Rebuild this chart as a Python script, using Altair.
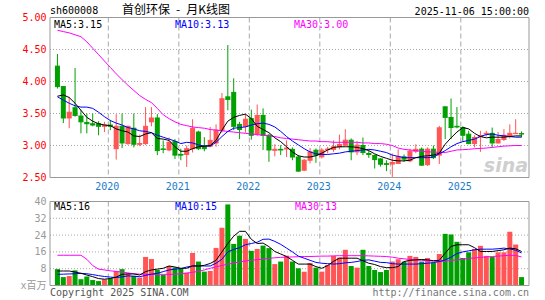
import altair as alt
import numpy as np
import pandas as pd

# ---------------- data ----------------
months = [str(p) for p in pd.period_range("2019-04", periods=80, freq="M")]

opens = [4.24, 3.92, 3.43, 3.59, 3.46, 3.36, 3.34, 3.34, 3.30, 3.32,
         2.95, 3.30, 3.03, 3.27, 3.02, 3.03, 3.37, 3.43, 2.945, 2.93,
         3.06, 2.86, 2.86, 2.95, 3.21, 2.99, 2.99, 3.04, 3.24, 3.76,
         3.83, 3.33, 3.30, 3.42, 3.18, 3.47, 3.16, 2.925, 2.94, 2.945,
         2.94, 2.82, 2.615, 2.77, 2.927, 2.823, 2.935, 2.94, 2.98, 3.005,
         3.083, 2.90, 3.00, 2.875, 2.844, 2.79, 2.715, 2.71, 2.72, 2.823,
         2.76, 2.91, 2.943, 2.70, 2.943, 2.85, 3.604, 3.4375, 3.30, 3.281,
         3.177, 3.03, 3.14, 3.18, 3.19, 3.04, 3.094, 3.15, 3.185, 3.185]

highs = [4.43, 3.93, 3.76, 4.21, 3.56, 3.50, 3.50, 3.38, 3.37, 3.40,
         3.49, 3.50, 3.31, 3.50, 3.17, 3.60, 3.60, 3.49, 3.08, 3.125,
         3.10, 2.95, 3.00, 3.41, 3.23, 3.13, 3.29, 3.33, 3.82, 4.57,
         4.05, 3.37, 3.49, 3.56, 3.64, 3.58, 3.18, 3.02, 3.005, 3.08,
         2.97, 2.85, 2.79, 2.963, 2.953, 2.96, 2.98, 3.08, 3.17, 3.255,
         3.11, 3.068, 3.125, 2.917, 2.86, 2.80, 2.77, 2.875, 2.94, 2.86,
         2.95, 3.02, 2.97, 2.97, 3.00, 3.307, 3.61, 3.734, 3.60, 3.30,
         3.23, 3.16, 3.23, 3.23, 3.28, 3.21, 3.255, 3.33, 3.41, 3.22]

lows = [3.89, 3.35, 3.27, 3.45, 3.19, 3.19, 3.30, 3.16, 3.21, 3.24,
        2.78, 2.96, 3.01, 2.97, 2.99, 3.01, 3.30, 2.85, 2.88, 2.91,
        2.79, 2.77, 2.665, 2.89, 2.93, 2.91, 2.97, 2.98, 3.20, 3.55,
        3.24, 3.10, 3.20, 3.09, 3.15, 2.93, 2.745, 2.83, 2.85, 2.82,
        2.77, 2.59, 2.60, 2.72, 2.73, 2.797, 2.875, 2.90, 2.94, 2.995,
        2.77, 2.85, 2.85, 2.807, 2.64, 2.67, 2.60, 2.51, 2.71, 2.745,
        2.74, 2.88, 2.68, 2.68, 2.79, 2.71, 3.10, 3.10, 3.27, 3.057,
        3.02, 2.97, 2.90, 3.14, 2.97, 3.03, 3.07, 3.11, 3.18, 3.13]

closes = [3.92, 3.43, 3.52, 3.47, 3.37, 3.34, 3.32, 3.30, 3.32, 3.30,
          3.30, 3.04, 3.30, 3.02, 3.03, 3.30, 3.43, 2.92, 2.94, 3.05,
          2.85, 2.85, 2.95, 3.27, 2.95, 2.95, 3.08, 3.24, 3.73, 3.72,
          3.30, 3.25, 3.41, 3.16, 3.47, 3.16, 2.93, 2.94, 2.93, 2.96,
          2.82, 2.60, 2.77, 2.90, 2.85, 2.927, 2.945, 2.98, 3.016, 3.083,
          2.90, 3.005, 2.89, 2.86, 2.78, 2.708, 2.705, 2.735, 2.823, 2.787,
          2.91, 2.94, 2.693, 2.943, 2.81, 3.276, 3.44, 3.281, 3.29, 3.16,
          3.03, 3.125, 3.155, 3.19, 3.04, 3.094, 3.16, 3.19, 3.19, 3.18]

volumes = [7.8, 4.0, 4.5, 7.2, 3.0, 4.3, 2.6, 2.1, 2.9, 3.4,
           6.9, 7.8, 5.8, 4.6, 3.8, 13.6, 12.6, 7.4, 5.0, 9.3,
           8.6, 8.3, 6.1, 15.5, 11.4, 6.6, 6.9, 17.9, 27.5, 38.6,
           19.8, 23.7, 22.2, 16.5, 17.4, 19.0, 17.8, 10.2, 11.4, 14.2,
           11.4, 8.2, 6.6, 10.7, 8.5, 6.6, 9.8, 14.1, 13.3, 17.0,
           9.3, 8.5, 17.0, 9.3, 7.4, 6.4, 7.4, 11.4, 12.5, 11.4,
           14.1, 13.6, 11.4, 13.1, 10.9, 15.0, 24.6, 24.3, 20.8, 13.1,
           15.8, 17.4, 18.9, 14.1, 13.6, 15.8, 15.8, 25.6, 19.5, 4.0]

ma5 = [3.77, 3.79, 3.75, 3.66, 3.55, 3.44, 3.38, 3.34, 3.32, 3.31,
       3.26, 3.23, 3.21, 3.15, 3.14, 3.18, 3.20, 3.11, 3.10, 3.08,
       2.98, 2.91, 2.91, 2.95, 2.98, 2.99, 3.00, 3.08, 3.24, 3.38,
       3.44, 3.47, 3.49, 3.42, 3.30, 3.25, 3.20, 3.12, 3.06, 2.98,
       2.90, 2.84, 2.82, 2.82, 2.84, 2.88, 2.93, 2.97, 2.98, 2.98,
       2.98, 2.97, 2.95, 2.92, 2.87, 2.83, 2.80, 2.77, 2.76, 2.76,
       2.77, 2.81, 2.83, 2.84, 2.85, 2.88, 3.02, 3.12, 3.21, 3.28,
       3.26, 3.19, 3.14, 3.12, 3.13, 3.13, 3.13, 3.14, 3.15, 3.15]

ma10 = [3.76, 3.71, 3.66, 3.62, 3.60, 3.60, 3.58, 3.52, 3.45, 3.39,
        3.35, 3.32, 3.28, 3.26, 3.23, 3.22, 3.20, 3.16, 3.13, 3.10,
        3.07, 3.03, 3.05, 3.04, 3.01, 2.99, 2.99, 3.05, 3.14, 3.22,
        3.27, 3.28, 3.29, 3.32, 3.34, 3.35, 3.33, 3.29, 3.22, 3.14,
        3.07, 3.01, 2.95, 2.90, 2.87, 2.86, 2.86, 2.87, 2.88, 2.90,
        2.91, 2.92, 2.93, 2.94, 2.93, 2.91, 2.89, 2.85, 2.83, 2.81,
        2.81, 2.81, 2.81, 2.81, 2.82, 2.87, 2.92, 2.98, 3.03, 3.06,
        3.08, 3.10, 3.14, 3.17, 3.18, 3.16, 3.15, 3.14, 3.13, 3.13]

ma30 = [4.80, 4.78, 4.76, 4.73, 4.70, 4.62, 4.52, 4.42, 4.32, 4.22,
        4.12, 4.03, 3.94, 3.86, 3.78, 3.72, 3.67, 3.58, 3.48, 3.42,
        3.37, 3.33, 3.31, 3.29, 3.28, 3.27, 3.25, 3.24, 3.23, 3.22,
        3.21, 3.20, 3.19, 3.18, 3.17, 3.16, 3.15, 3.14, 3.12, 3.11,
        3.10, 3.09, 3.08, 3.07, 3.07, 3.06, 3.06, 3.05, 3.05, 3.05,
        3.05, 3.05, 3.04, 3.04, 3.03, 3.03, 3.02, 3.00, 2.96, 2.94,
        2.93, 2.92, 2.91, 2.90, 2.90, 2.89, 2.89, 2.91, 2.93, 2.935,
        2.94, 2.95, 2.955, 2.96, 2.97, 2.98, 2.99, 2.995, 3.00, 3.00]

vma5 = [6.9, 6.9, 6.9, 6.4, 5.8, 5.0, 4.2, 3.3, 3.0, 3.3,
        4.0, 5.3, 5.5, 5.5, 5.0, 6.6, 7.4, 7.8, 8.2, 9.3,
        8.8, 8.2, 8.2, 9.3, 9.3, 9.6, 10.5, 12.0, 16.0, 20.0,
        23.5, 25.8, 25.8, 22.0, 20.0, 20.2, 18.5, 16.2, 15.0, 13.8,
        12.0, 10.2, 10.2, 10.2, 9.0, 8.2, 9.5, 11.5, 13.0, 13.0,
        13.0, 13.0, 11.8, 10.6, 10.0, 9.0, 8.5, 8.5, 9.0, 11.4,
        12.0, 12.2, 12.4, 12.2, 11.8, 12.0, 15.4, 18.6, 19.4, 19.4,
        19.4, 18.0, 16.2, 16.2, 16.2, 16.6, 17.0, 17.8, 17.5, 16.2]

vma10 = [5.3, 5.4, 5.5, 5.6, 5.8, 5.6, 5.2, 4.7, 4.3, 4.0,
         3.8, 4.1, 4.6, 4.4, 4.2, 4.8, 5.4, 5.8, 6.6, 7.4,
         7.8, 8.0, 8.8, 9.3, 9.3, 9.3, 9.3, 10.6, 12.5, 16.0,
         17.2, 18.0, 19.4, 20.0, 20.6, 22.0, 22.1, 21.0, 19.6, 17.8,
         16.0, 14.0, 13.0, 12.0, 11.0, 10.6, 10.4, 10.2, 10.4, 10.8,
         11.0, 11.4, 12.0, 12.2, 11.6, 11.0, 10.9, 10.4, 10.2, 10.2,
         10.2, 10.2, 10.4, 10.6, 10.9, 11.4, 12.2, 13.5, 15.2, 16.0,
         16.5, 17.0, 17.3, 17.3, 17.3, 17.5, 17.8, 17.4, 16.8, 15.5]

vma30 = [14.4, 14.4, 14.4, 14.4, 14.4, 12.5, 9.5, 7.8, 7.4, 7.0,
         6.7, 6.4, 6.0, 5.6, 5.4, 5.3, 5.3, 5.3, 5.3, 5.3,
         5.4, 5.6, 5.9, 6.3, 6.7, 7.4, 8.2, 8.9, 9.5, 10.2,
         10.7, 11.2, 11.7, 12.0, 12.3, 12.6, 12.9, 13.2, 13.4, 13.5,
         13.6, 13.7, 13.8, 13.8, 13.9, 14.0, 14.0, 14.1, 14.2, 14.2,
         14.2, 14.2, 14.2, 14.1, 14.0, 13.9, 13.8, 13.5, 13.0, 12.7,
         12.4, 12.2, 12.0, 11.8, 11.6, 11.4, 11.6, 11.9, 12.2, 12.5,
         12.9, 13.1, 13.4, 13.6, 13.8, 14.0, 14.2, 14.4, 14.3, 13.6]

years = ["2020", "2021", "2022", "2023", "2024", "2025"]
price_ticks = [2.5, 3.0, 3.5, 4.0, 4.5, 5.0]
price_grid = [3.0, 3.5, 4.0, 4.5]
vol_ticks = [0, 8, 16, 24, 32, 40]
vol_grid = [8, 16, 24, 32]

df = pd.DataFrame({
    "i": np.arange(len(months)), "month": months,
    "open": opens, "high": highs, "low": lows, "close": closes,
    "vol": volumes, "ma5": ma5, "ma10": ma10, "ma30": ma30,
    "vma5": vma5, "vma10": vma10, "vma30": vma30,
})
df["dir"] = np.where(df["close"] >= df["open"], "up", "down")
ydf = pd.DataFrame({"year": years, "i": [months.index(y + "-01") for y in years]})
dummy = pd.DataFrame({"k": [0]})

# ---------------- layout / style ----------------
W, H = 479, 268
PH = 160
VT, VB = 184, 268
RED = "#FF5555"
GREEN = "#00A000"
GRID = "#A8A8A8"
BORDER = "#999999"
BLUE_TXT = "#1C7CC8"
MONO = "DejaVu Sans Mono"

xscale = alt.Scale(domain=[-2.5 / 6, (W - 2.5) / 6], nice=False, zero=False)
pscale = alt.Scale(domain=[2.5, 5.0], range=[PH, 0], nice=False, zero=False)
vscale = alt.Scale(domain=[0, 40], range=[VB, VT], nice=False, zero=False)
color = alt.Color("dir:N", scale=alt.Scale(domain=["up", "down"], range=[RED, GREEN]), legend=None)
X = alt.X("i:Q", scale=xscale, axis=None)

paxis = alt.Axis(values=price_ticks, format=".2f", labelColor="#FF0000", labelFont=MONO,
                 labelFontSize=10, tickSize=0, domain=False, grid=False, labelPadding=4,
                 labelOverlap=False, labelFlush=False, title=None, orient="left")
vaxis = alt.Axis(values=vol_ticks, labelColor="#999999", labelFont=MONO + ", Noto Sans CJK SC",
                 labelFontSize=10, tickSize=0, domain=False, grid=False, labelPadding=4,
                 labelOverlap=False, labelFlush=False, title=None, orient="left",
                 labelExpr="datum.value == 0 ? 'x百万' : datum.label")


def PY(field):
    return alt.Y(field, scale=pscale, axis=paxis)


def VY(field):
    return alt.Y(field, scale=vscale, axis=vaxis)


# ---------------- price panel ----------------
p_grid = alt.Chart(pd.DataFrame({"v": price_grid})).mark_rule(
    color=GRID, strokeDash=[1, 2], strokeWidth=1).encode(
    y=PY("v:Q"), x=alt.value(0), x2=alt.value(W))
p_years = alt.Chart(ydf).mark_rule(color=GRID, strokeDash=[5, 3], strokeWidth=1, xOffset=-2).encode(
    x=X, y=alt.value(0), y2=alt.value(PH))
wick = alt.Chart(df).mark_rule(strokeWidth=1).encode(x=X, y=PY("low:Q"), y2="high:Q", color=color)
flat_o = alt.Chart(df).mark_rule(strokeWidth=1, xOffset=-2.5, x2Offset=2.5).encode(
    x=X, x2="i:Q", y=PY("open:Q"), color=color)
flat_c = alt.Chart(df).mark_rule(strokeWidth=1, xOffset=-2.5, x2Offset=2.5).encode(
    x=X, x2="i:Q", y=PY("close:Q"), color=color)
body = alt.Chart(df).mark_bar(size=5).encode(x=X, y=PY("open:Q"), y2="close:Q", color=color)
l30 = alt.Chart(df).mark_line(color="#FF00FF", strokeWidth=1).encode(x=X, y=PY("ma30:Q"))
l10 = alt.Chart(df).mark_line(color="#0000FF", strokeWidth=1).encode(x=X, y=PY("ma10:Q"))
l5 = alt.Chart(df).mark_line(color="#000000", strokeWidth=1).encode(x=X, y=PY("ma5:Q"))
price = alt.layer(p_grid, p_years, wick, flat_o, flat_c, body, l30, l10, l5)

# ---------------- volume panel ----------------
v_grid = alt.Chart(pd.DataFrame({"v": vol_grid})).mark_rule(
    color=GRID, strokeDash=[1, 2], strokeWidth=1).encode(
    y=VY("v:Q"), x=alt.value(0), x2=alt.value(W))
v_years = alt.Chart(ydf).mark_rule(color=GRID, strokeDash=[5, 3], strokeWidth=1, xOffset=-2).encode(
    x=X, y=alt.value(VT), y2=alt.value(VB))
vbar = alt.Chart(df).mark_bar(size=5).encode(x=X, y=VY("vol:Q"), color=color)
v30 = alt.Chart(df).mark_line(color="#FF00FF", strokeWidth=1).encode(x=X, y=VY("vma30:Q"))
v10 = alt.Chart(df).mark_line(color="#0000FF", strokeWidth=1).encode(x=X, y=VY("vma10:Q"))
v5 = alt.Chart(df).mark_line(color="#000000", strokeWidth=1).encode(x=X, y=VY("vma5:Q"))
volume = alt.layer(v_grid, v_years, vbar, v30, v10, v5)

# ---------------- texts and frames ----------------
def label(text, x, y, col="#000000", align="left", font=MONO, size=10, **kw):
    return alt.Chart(dummy).mark_text(text=text, align=align, baseline="middle", font=font,
                                      fontSize=size, color=col, **kw).encode(
        x=alt.value(x), y=alt.value(y))


year_txt = alt.Chart(ydf).mark_text(font=MONO, fontSize=10, color=BLUE_TXT, dx=-3,
                                    baseline="middle", align="center").encode(
    x=X, y=alt.value(169), text="year:N")

frame_p = alt.Chart(dummy).mark_rect(fillOpacity=0, stroke=BORDER, strokeWidth=1).encode(
    x=alt.value(0), x2=alt.value(W), y=alt.value(0), y2=alt.value(PH))
frame_v = alt.Chart(dummy).mark_rect(fillOpacity=0, stroke=BORDER, strokeWidth=1).encode(
    x=alt.value(0), x2=alt.value(W), y=alt.value(VT), y2=alt.value(VB))

texts = alt.layer(
    label("sh600008", 0, -7),
    label("首创环保\u2002-\u2002月K线图", 126, -8, align="center", font="Noto Sans CJK SC", size=12),
    label("2025-11-06 15:00:00", W, -6, align="right"),
    label("MA5:3.15", 4, 7),
    label("MA10:3.13", 125, 7, col="#0000FF"),
    label("MA30:3.00", 244, 7, col="#FF00FF"),
    label("MA5:16", 4, 189.5),
    label("MA10:15", 125, 189.5, col="#0000FF"),
    label("MA30:13", 245, 189.5, col="#FF00FF"),
    label("Copyright 2025 SINA.COM", 0, 275.5, col="#555555"),
    label("http://finance.sina.com.cn", W, 275.5, col="#777777", align="right"),
    label("sina", 478, 148, col="#CFCFCF", align="right", font="DejaVu Sans", size=19,
          fontStyle="italic", fontWeight="bold"),
    year_txt, frame_p, frame_v,
)

chart = alt.layer(price, volume, texts).resolve_scale(y="independent").properties(
    width=W, height=H,
    autosize=alt.AutoSizeParams(type="none"),
    padding={"left": 50, "top": 17.5, "right": 16, "bottom": 14.5},
).configure_view(strokeOpacity=0)

chart.save("out.html", embed_options={"renderer": "svg", "actions": False})
